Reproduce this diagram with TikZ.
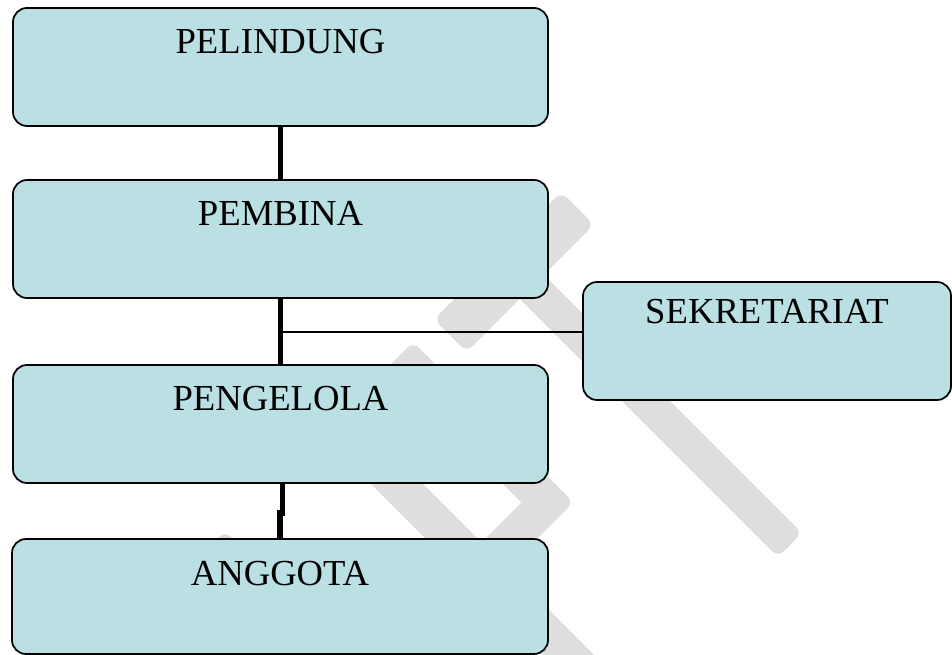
\documentclass[tikz,border=0pt]{standalone}
\usepackage{fontspec}
\setmainfont{Liberation Serif}
\definecolor{boxfill}{RGB}{186,224,227}
\definecolor{wmgray}{RGB}{222,222,222}
\begin{document}
\begin{tikzpicture}[x=0.75pt, y=-0.75pt,
  orgbox/.style={rectangle, draw=black, line width=1.3pt, rounded corners=10.5pt, fill=boxfill, inner sep=0pt, outer sep=0pt, minimum width=#1, text height=34.5pt, text depth=54pt, anchor=north, font=\fontsize{27.5}{33}\selectfont},
  orgbox/.default=401.25pt,
  wmbar/.style={rectangle, fill=wmgray, rounded corners=6pt, inner sep=0pt, minimum height=#1},
  wmbar/.default=27.75pt,
  mainline/.style={line width=4pt},
  sideline/.style={line width=1.6pt}]
  \useasboundingbox (0,0) rectangle (952,655);
  % watermark
  \node[wmbar=34.5pt, minimum width=135pt, rotate=45] (wm1) at (514,272) {};
  \node[wmbar=25.5pt, minimum width=339.4pt, rotate=-45] (wm2) at (630,385) {};
  \node[wmbar, minimum width=169.7pt, rotate=-45] (wm3) at (480,435) {};
  \node[wmbar, minimum width=127.3pt, rotate=45] (wm4) at (500,550) {};
  \node[wmbar, minimum width=339.4pt, rotate=-45] (wm5) at (490,577) {};
  \node[wmbar, minimum width=93.3pt, rotate=-45] (wm6) at (256,588) {};

  \node[orgbox] (pelindung) at (280.5,8) {PELINDUNG};
  \node[orgbox] (pembina) at (280.5,180) {PEMBINA};
  \node[orgbox] (penge) at (280.5,365) {PENGELOLA};
  \node[orgbox=402pt, text depth=51.75pt] (anggota) at (280,539) {ANGGOTA};
  \node[orgbox=276pt, text height=31.5pt, text depth=57pt] (sekre) at (767,282) {SEKRETARIAT};

  \draw[mainline] (pelindung.south) -- (pembina.north);
  \draw[mainline] (pembina.south) -- (penge.north);
  \path (pembina.south) ++(0,34) coordinate (branch);
  \draw[sideline] (branch) -- (branch -| sekre.west);
  \draw[mainline] ([xshift=1.5pt]penge.south) -- ++(0,30) -| (anggota.north);
\end{tikzpicture}
\end{document}
